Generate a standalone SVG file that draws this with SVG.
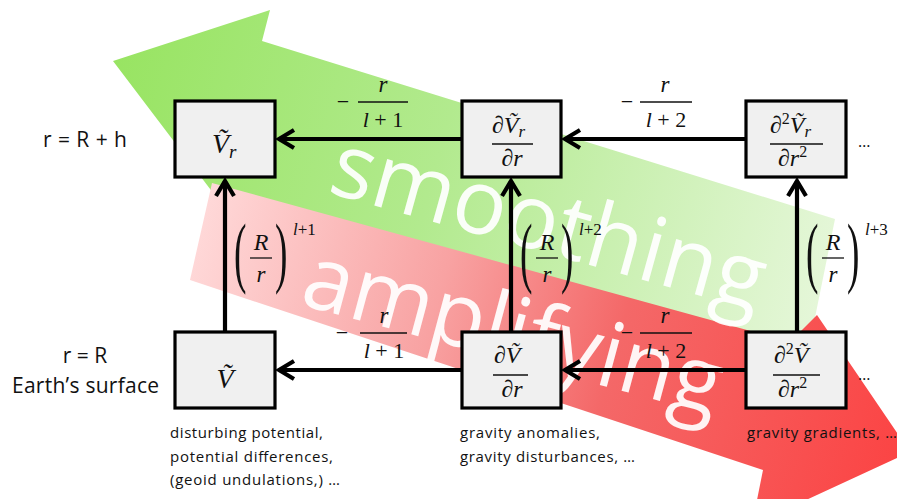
<svg xmlns="http://www.w3.org/2000/svg" width="897" height="499" viewBox="0 0 897 499">
<defs>
<linearGradient id="gGreen" gradientUnits="userSpaceOnUse" x1="113" y1="60" x2="840" y2="260">
<stop offset="0" stop-color="#98e462"/>
<stop offset="0.45" stop-color="#b2ea8e"/>
<stop offset="1" stop-color="#e6f7da"/>
</linearGradient>
<linearGradient id="gRed" gradientUnits="userSpaceOnUse" x1="190" y1="230" x2="900" y2="430">
<stop offset="0" stop-color="#ffdada"/>
<stop offset="0.35" stop-color="#f8a2a2"/>
<stop offset="0.6" stop-color="#f46868"/>
<stop offset="1" stop-color="#fb4545"/>
</linearGradient>
<marker id="ah" markerUnits="userSpaceOnUse" markerWidth="24" markerHeight="24" viewBox="-20 -12 24 24" refX="0" refY="0" orient="auto">
<path d="M -15 -9 L 0 0 L -15 9" fill="none" stroke="#000" stroke-width="4.2" stroke-linejoin="miter"/>
</marker>
<style>
.box{fill:#f0f0f0;stroke:#000;stroke-width:3.2}
.con{stroke:#000;stroke-width:4.2;fill:none;marker-end:url(#ah)}
.m{font-family:"Liberation Serif","DejaVu Serif",serif;font-style:italic;fill:#111}
.n{font-family:"Liberation Serif","DejaVu Serif",serif;font-style:normal;fill:#111}
.bar{stroke:#111;stroke-width:1.3}
.lab{font-family:"Open Sans","Liberation Sans",sans-serif;fill:#111}
.big{font-family:"Open Sans","Liberation Sans",sans-serif;fill:#fff;fill-opacity:0.93;font-size:90px}
</style>
</defs>

<g id="background-arrows">
<polygon id="smoothing-arrow" fill="url(#gGreen)" points="113,61 270,10 262,41 835,219 806,362 232,206 226,210"/>
<polygon id="amplifying-arrow" fill="url(#gRed)" points="212,183 747,330 790,342 817,315 910,452 752,525 763,470 190,280"/>
<text class="big" x="326" y="192" textLength="446" lengthAdjust="spacingAndGlyphs" transform="rotate(15.5 326 192)">smoothing</text>
<text class="big" x="298" y="304" textLength="430" lengthAdjust="spacingAndGlyphs" transform="rotate(15 298 304)">amplifying</text>
</g>

<g id="connectors">
<line class="con" x1="462" y1="139" x2="279" y2="139"/>
<line class="con" x1="746" y1="139" x2="565" y2="139"/>
<line class="con" x1="462" y1="370" x2="279" y2="370"/>
<line class="con" x1="746" y1="370" x2="565" y2="370"/>
<line class="con" x1="225" y1="332" x2="225" y2="181"/>
<line class="con" x1="511" y1="332" x2="511" y2="181"/>
<line class="con" x1="797" y1="332" x2="797" y2="181"/>
</g>

<g id="edge-labels">
<text class="n" x="343" y="109" font-size="22" text-anchor="middle">−</text>
<line class="bar" x1="358" y1="102" x2="408" y2="102"/>
<text class="m" x="383" y="92" font-size="23" text-anchor="middle">r</text>
<text class="n" x="383" y="127" font-size="22" text-anchor="middle"><tspan class="m">l</tspan> + 1</text>

<text class="n" x="627" y="109" font-size="22" text-anchor="middle">−</text>
<line class="bar" x1="640" y1="102" x2="692" y2="102"/>
<text class="m" x="665" y="92" font-size="23" text-anchor="middle">r</text>
<text class="n" x="666" y="127" font-size="22" text-anchor="middle"><tspan class="m">l</tspan> + 2</text>

<text class="n" x="342" y="340" font-size="22" text-anchor="middle">−</text>
<line class="bar" x1="360" y1="333" x2="407" y2="333"/>
<text class="m" x="384" y="323" font-size="23" text-anchor="middle">r</text>
<text class="n" x="384" y="358" font-size="22" text-anchor="middle"><tspan class="m">l</tspan> + 1</text>

<text class="n" x="627" y="340" font-size="22" text-anchor="middle">−</text>
<line class="bar" x1="640" y1="333" x2="692" y2="333"/>
<text class="m" x="665" y="323" font-size="23" text-anchor="middle">r</text>
<text class="n" x="666" y="358" font-size="22" text-anchor="middle"><tspan class="m">l</tspan> + 2</text>

<text class="n" font-size="44" transform="translate(234 278) scale(0.85 1.8)">(</text>
<text class="m" x="261" y="250" font-size="24" text-anchor="middle">R</text>
<line class="bar" x1="250" y1="258" x2="272" y2="258"/>
<text class="m" x="261" y="282" font-size="23" text-anchor="middle">r</text>
<text class="n" font-size="44" transform="translate(275 278) scale(0.85 1.8)">)</text>
<text class="n" x="293" y="235" font-size="17"><tspan class="m">l</tspan>+1</text>

<text class="n" font-size="44" transform="translate(520 278) scale(0.85 1.8)">(</text>
<text class="m" x="547" y="250" font-size="24" text-anchor="middle">R</text>
<line class="bar" x1="536" y1="258" x2="558" y2="258"/>
<text class="m" x="547" y="282" font-size="23" text-anchor="middle">r</text>
<text class="n" font-size="44" transform="translate(561 278) scale(0.85 1.8)">)</text>
<text class="n" x="579" y="235" font-size="17"><tspan class="m">l</tspan>+2</text>

<text class="n" font-size="44" transform="translate(806 278) scale(0.85 1.8)">(</text>
<text class="m" x="833" y="250" font-size="24" text-anchor="middle">R</text>
<line class="bar" x1="822" y1="258" x2="844" y2="258"/>
<text class="m" x="833" y="282" font-size="23" text-anchor="middle">r</text>
<text class="n" font-size="44" transform="translate(847 278) scale(0.85 1.8)">)</text>
<text class="n" x="865" y="235" font-size="17"><tspan class="m">l</tspan>+3</text>
</g>

<g id="node-Vr">
<rect class="box" x="175" y="101" width="100" height="76"/>
<text class="m" x="212" y="153" font-size="28">Ṽ<tspan font-size="19" dy="5">r</tspan></text>
</g>

<g id="node-dVr">
<rect class="box" x="462" y="101" width="99" height="76"/>
<text class="m" x="492" y="133" font-size="24">∂Ṽ<tspan font-size="17" dy="4">r</tspan></text>
<line class="bar" x1="492" y1="144" x2="533" y2="144"/>
<text class="m" x="512" y="166" font-size="24" text-anchor="middle">∂r</text>
</g>

<g id="node-d2Vr">
<rect class="box" x="746" y="101" width="100" height="76"/>
<text class="m" x="770" y="133" font-size="24">∂<tspan class="n" font-size="16" dy="-9">2</tspan><tspan dy="9">Ṽ</tspan><tspan font-size="17" dy="4">r</tspan></text>
<line class="bar" x1="770" y1="144" x2="823" y2="144"/>
<text class="m" x="778" y="166" font-size="24">∂r<tspan class="n" font-size="16" dy="-9">2</tspan></text>
<text class="lab" x="858" y="147" font-size="16">…</text>
</g>

<g id="node-V">
<rect class="box" x="175" y="332" width="100" height="76"/>
<text class="m" x="225" y="388" font-size="28" text-anchor="middle">Ṽ</text>
</g>

<g id="node-dV">
<rect class="box" x="462" y="332" width="99" height="76"/>
<text class="m" x="494" y="363" font-size="24">∂Ṽ</text>
<line class="bar" x1="493" y1="375" x2="528" y2="375"/>
<text class="m" x="512" y="397" font-size="24" text-anchor="middle">∂r</text>
</g>

<g id="node-d2V">
<rect class="box" x="746" y="332" width="100" height="76"/>
<text class="m" x="774" y="363" font-size="24">∂<tspan class="n" font-size="16" dy="-9">2</tspan><tspan dy="9">Ṽ</tspan></text>
<line class="bar" x1="773" y1="375" x2="820" y2="375"/>
<text class="m" x="778" y="397" font-size="24">∂r<tspan class="n" font-size="16" dy="-9">2</tspan></text>
<text class="lab" x="858" y="380" font-size="16">…</text>
</g>

<g id="side-labels">
<text class="lab" x="43" y="147" font-size="21" textLength="84">r = R + h</text>
<text class="lab" x="85" y="363" font-size="21" text-anchor="middle">r = R</text>
<text class="lab" x="12" y="393" font-size="21" textLength="147">Earth’s surface</text>
</g>

<g id="descriptions">
<text class="lab" font-size="15" x="170" y="438" textLength="153">disturbing potential,</text>
<text class="lab" font-size="15" x="170" y="462" textLength="163">potential differences,</text>
<text class="lab" font-size="15" x="170" y="485" textLength="170">(geoid undulations,) …</text>
<text class="lab" font-size="15" x="460" y="438" textLength="140">gravity anomalies,</text>
<text class="lab" font-size="15" x="460" y="462" textLength="175">gravity disturbances, …</text>
<text class="lab" font-size="15" x="747" y="438" textLength="150">gravity gradients, …</text>
</g>
</svg>
